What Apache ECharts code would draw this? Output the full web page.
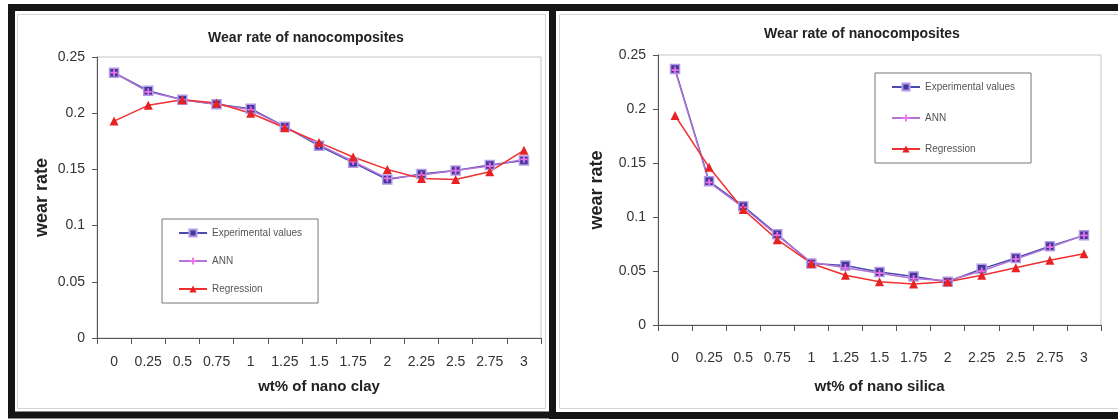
<!DOCTYPE html>
<html>
<head>
<meta charset="utf-8">
<title>Wear rate of nanocomposites</title>
<script src="https://cdn.jsdelivr.net/npm/echarts@6/dist/echarts.min.js"></script>
<style>
  html, body { margin: 0; padding: 0; background: #fff; }
  #main { width: 1118px; height: 419px; }
</style>
</head>
<body>
<div id="main"></div>
<script>
// wt% of filler (same for both charts)
var categories = ['0', '0.25', '0.5', '0.75', '1', '1.25', '1.5', '1.75', '2', '2.25', '2.5', '2.75', '3'];

// left chart: nano clay
var clayExp = [0.236, 0.220, 0.212, 0.208, 0.204, 0.188, 0.171, 0.156, 0.141, 0.146, 0.149, 0.154, 0.158];
var clayAnn = [0.236, 0.219, 0.212, 0.208, 0.203, 0.188, 0.172, 0.157, 0.142, 0.145, 0.149, 0.153, 0.159];
var clayReg = [0.193, 0.207, 0.212, 0.209, 0.200, 0.187, 0.174, 0.161, 0.150, 0.142, 0.141, 0.148, 0.167];

// right chart: nano silica
var silicaExp = [0.237, 0.133, 0.110, 0.084, 0.057, 0.055, 0.049, 0.045, 0.040, 0.052, 0.062, 0.073, 0.083];
var silicaAnn = [0.236, 0.132, 0.109, 0.083, 0.058, 0.053, 0.048, 0.043, 0.041, 0.050, 0.061, 0.072, 0.083];
var silicaReg = [0.194, 0.146, 0.107, 0.079, 0.057, 0.046, 0.040, 0.038, 0.040, 0.046, 0.053, 0.060, 0.066];

var seriesNames = ['Experimental values', 'ANN', 'Regression'];
var titleText = 'Wear rate of nanocomposites';
var yName = 'wear rate';
var xNames = ['wt% of nano clay', 'wt% of nano silica'];

var font = "'Liberation Sans', Arial, sans-serif";
var plusPath = 'path://M3,0H5V3H8V5H5V8H3V5H0V3H3Z';

var chart = echarts.init(document.getElementById('main'));

function makeSeries(idx, exp, ann, reg) {
  return [
    {
      name: seriesNames[0], type: 'line', xAxisIndex: idx, yAxisIndex: idx,
      data: exp, symbol: 'rect', symbolSize: 9,
      lineStyle: { color: '#4a4aae', width: 1.5 },
      itemStyle: { color: '#43369c', borderColor: '#b39ae6', borderWidth: 1.5 }
    },
    {
      name: seriesNames[1], type: 'line', xAxisIndex: idx, yAxisIndex: idx,
      data: ann, symbol: plusPath, symbolSize: 7,
      lineStyle: { color: '#b374d6', width: 1.5 },
      itemStyle: { color: '#f070e8' }
    },
    {
      name: seriesNames[2], type: 'line', xAxisIndex: idx, yAxisIndex: idx,
      data: reg, symbol: 'triangle', symbolSize: 9,
      lineStyle: { color: '#f23030', width: 1.5 },
      itemStyle: { color: '#e82222' }
    }
  ];
}

function makeX(idx, labelMargin, nameGap) {
  return {
    type: 'category', gridIndex: idx, data: categories, boundaryGap: true,
    name: xNames[idx], nameLocation: 'middle', nameGap: nameGap,
    nameTextStyle: { fontFamily: font, fontWeight: 'bold', fontSize: 15, color: '#222' },
    axisLine: { lineStyle: { color: '#555', width: 1 } },
    axisTick: { show: true, length: 6, lineStyle: { color: '#555' } },
    axisLabel: { interval: 0, margin: labelMargin, fontFamily: font, fontSize: 14, color: '#333' },
    splitLine: { show: false }
  };
}

function makeY(idx, nameGap) {
  return {
    type: 'value', gridIndex: idx, min: 0, max: 0.25, interval: 0.05,
    name: yName, nameLocation: 'middle', nameGap: nameGap, nameRotate: 90,
    nameTextStyle: { fontFamily: font, fontWeight: 'bold', fontSize: 18, color: '#222' },
    axisLine: { show: true, lineStyle: { color: '#555', width: 1 } },
    axisTick: { show: true, length: 5, lineStyle: { color: '#555' } },
    axisLabel: { margin: 12, fontFamily: font, fontSize: 14, color: '#333' },
    splitLine: { show: false }
  };
}

function makeLegend(left, top, gap) {
  return {
    data: seriesNames, orient: 'vertical', left: left, top: top,
    padding: [9, 16, 9, 16], itemGap: gap, itemWidth: 28, itemHeight: 9,
    backgroundColor: '#fff', borderColor: '#777', borderWidth: 1, borderRadius: 0,
    textStyle: { fontFamily: font, fontSize: 10, color: '#555' },
    selectedMode: false
  };
}

var option = {
  backgroundColor: '#fff',
  animation: false,
  title: [
    { text: titleText, left: 306, top: 31, textAlign: 'center', padding: 0,
      textStyle: { fontFamily: font, fontWeight: 'bold', fontSize: 14, color: '#222' } },
    { text: titleText, left: 862, top: 27, textAlign: 'center', padding: 0,
      textStyle: { fontFamily: font, fontWeight: 'bold', fontSize: 14, color: '#222' } }
  ],
  legend: [
    makeLegend(162, 219, 18),
    makeLegend(875, 73, 21)
  ],
  grid: [
    { left: 97, top: 57, width: 444, height: 281, show: true, borderColor: '#c4c4c4', borderWidth: 1, backgroundColor: '#fff' },
    { left: 658, top: 55, width: 443, height: 270, show: true, borderColor: '#c4c4c4', borderWidth: 1, backgroundColor: '#fff' }
  ],
  xAxis: [makeX(0, 17, 41), makeX(1, 26, 54)],
  yAxis: [makeY(0, 46), makeY(1, 52)],
  series: makeSeries(0, clayExp, clayAnn, clayReg).concat(makeSeries(1, silicaExp, silicaAnn, silicaReg)),
  graphic: [
    // light inner chart-area borders
    { type: 'rect', silent: true, z: 0, shape: { x: 17.5, y: 14.5, width: 528, height: 394 },
      style: { fill: 'none', stroke: '#d4d4d4', lineWidth: 1 } },
    { type: 'rect', silent: true, z: 0, shape: { x: 559.5, y: 14.5, width: 570, height: 394 },
      style: { fill: 'none', stroke: '#d4d4d4', lineWidth: 1 } },
    // thick black frames round the two panels
    { type: 'rect', silent: true, z: 100, shape: { x: 11.5, y: 7.5, width: 541, height: 407.5 },
      style: { fill: 'none', stroke: '#151515', lineWidth: 7 } },
    { type: 'rect', silent: true, z: 100, shape: { x: 552.5, y: 7.5, width: 580, height: 408 },
      style: { fill: 'none', stroke: '#151515', lineWidth: 7 } }
  ]
};

chart.setOption(option);
</script>
</body>
</html>
